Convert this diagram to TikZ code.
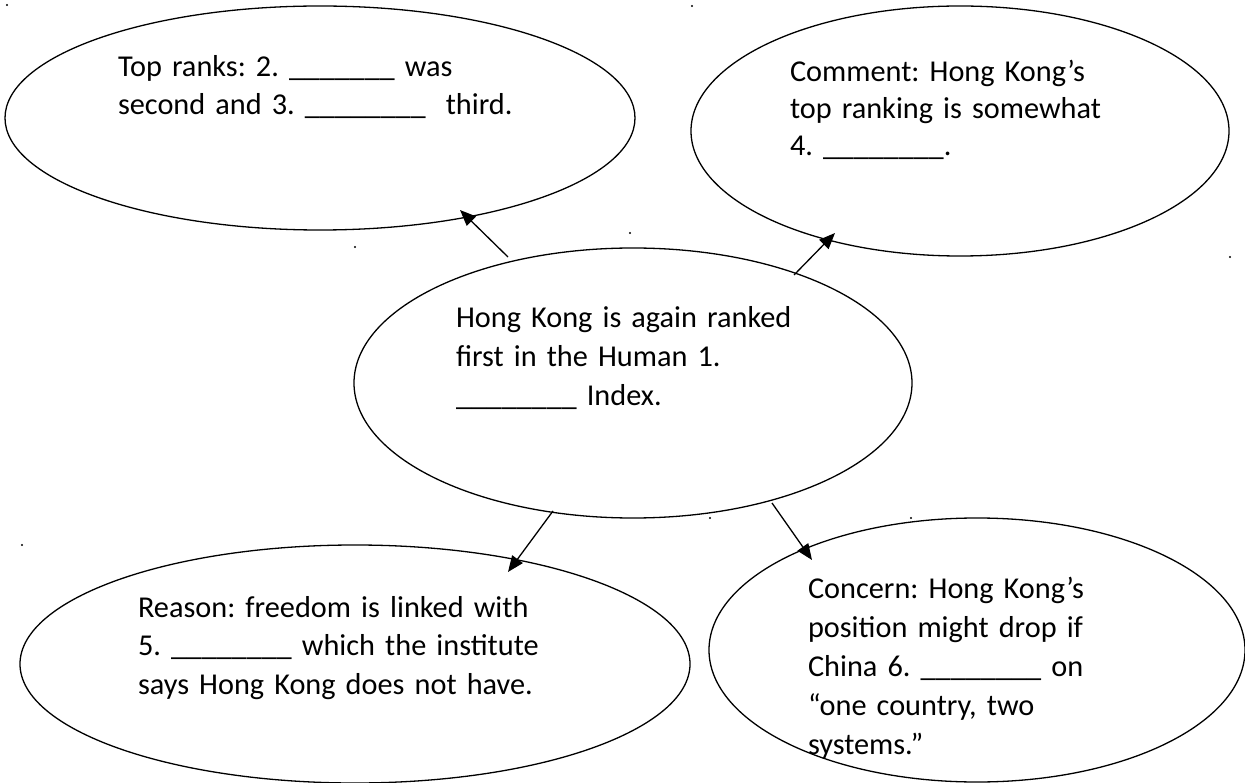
\documentclass[tikz,border=0pt]{standalone}
\usepackage{fontspec}
\setmainfont{Carlito}
\usetikzlibrary{shapes.geometric,arrows.meta,calc}
\frenchspacing
\begin{document}
\begin{tikzpicture}[x=1pt,y=-1pt,
  bubble/.style={draw, ellipse, line width=1.3pt, inner sep=0pt, outer sep=0pt},
  txt/.style={anchor=base west, inner sep=0pt, outer sep=0pt, text width=520pt, align=left,
    font=\fontsize{30.3}{39}\selectfont},
  link/.style={line width=1.3pt, -{Triangle[length=16pt,width=13pt]}},
  speck/.style={circle, fill, inner sep=0pt, minimum size=2.4pt}]
\useasboundingbox (0,0) rectangle (1245,783);
% ellipses
\node[bubble, minimum width=630pt, minimum height=224pt] (tl) at (320,118) {};
\node[bubble, minimum width=538pt, minimum height=250pt] (tr) at (960,131) {};
\node[bubble, minimum width=558pt, minimum height=270pt] (c) at (633,383) {};
\node[bubble, minimum width=670pt, minimum height=238pt] (bl) at (355,664) {};
\node[bubble, minimum width=536pt, minimum height=264pt] (br) at (977,650) {};
% texts
\node[txt, font=\fontsize{30.3}{38}\selectfont] (tltext) at (118,77) {Top ranks: 2. \_\_\_\_\_\_\_ was\\second and 3. \_\_\_\_\_\_\_\_\ \ third.};
\node[txt, font=\fontsize{30.3}{37}\selectfont] (trtext) at (790,82) {Comment: Hong Kong’s\\top ranking is somewhat\\4. \_\_\_\_\_\_\_\_.};
\node[txt] (ctext) at (456,328) {Hong Kong is again ranked\\first in the Human 1.\\\_\_\_\_\_\_\_\_ Index.};
\node[txt, font=\fontsize{30.3}{38.5}\selectfont] (bltext) at (138,617) {Reason: freedom is linked with\\5. \_\_\_\_\_\_\_\_ which the institute\\says Hong Kong does not have.};
\node[txt] (brtext) at (808,598) {Concern: Hong Kong’s\\position might drop if\\China 6. \_\_\_\_\_\_\_\_ on\\“one country, two\\systems.”};
% arrows
\draw[link] ($(c.center)+(-125,-126)$) -- ($(tl.center)+(140,92)$);
\draw[link] ($(c.center)+(161,-108)$) -- ($(tr.center)+(-125,102)$);
\draw[link] ($(c.center)+(-80,128)$) -- ($(bl.center)+(153,-92)$);
\draw[link] ($(c.center)+(139,120)$) -- ($(br.center)+(-165,-90)$);
% stray dots
\node[speck] (d1) at (7,5) {};
\node[speck] (d2) at (692,6) {};
\node[speck] (d3) at (1230,257) {};
\node[speck] (d4) at (355,247) {};
\node[speck] (d5) at (630,233) {};
\node[speck] (d6) at (710,518) {};
\node[speck] (d7) at (911,518) {};
\node[speck] (d8) at (22,545) {};
\end{tikzpicture}
\end{document}
